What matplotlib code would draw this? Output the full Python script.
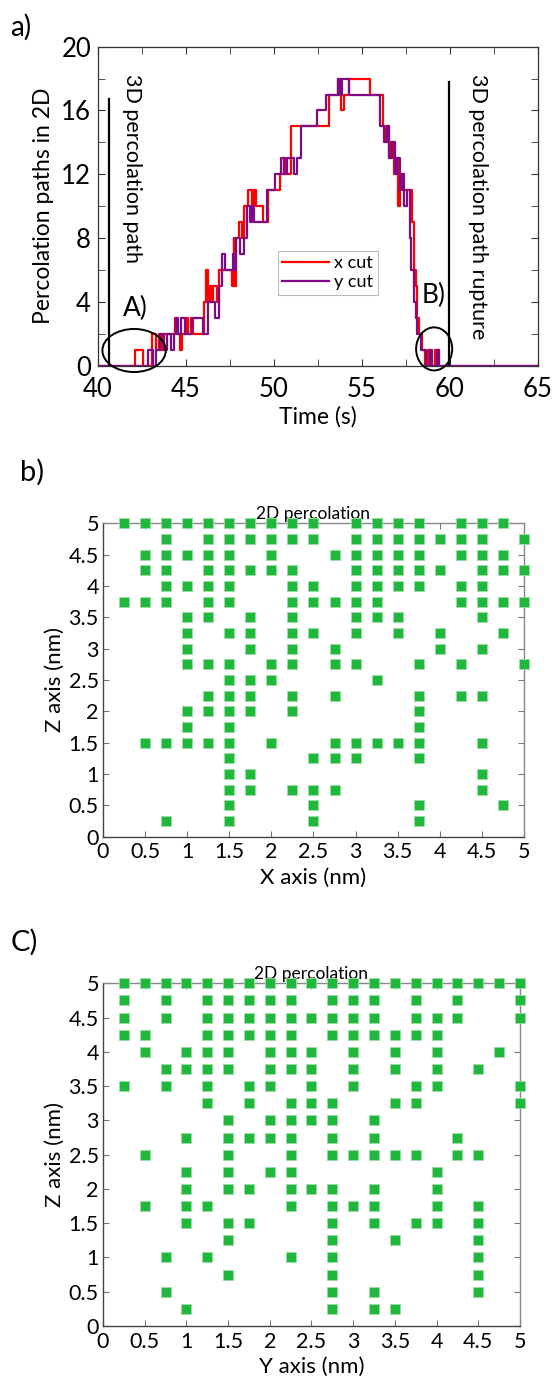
import matplotlib
matplotlib.use("Agg")
import matplotlib.pyplot as plt
from matplotlib.patches import Ellipse
from matplotlib.ticker import MultipleLocator
import numpy as np

plt.rcParams['font.family'] = ['Lato', 'DejaVu Sans']

# ---- (a) number of 2D percolation paths vs time (step changes) ----
xcut_t = [40.0, 42.1, 42.55, 43.05, 43.3, 43.45, 43.6, 43.7, 44.4, 44.5, 44.65, 44.75,
          45.0, 45.1, 45.3, 45.4, 46.05, 46.15, 46.25, 46.35, 46.45, 46.55, 46.75,
          46.85, 47.6, 47.7, 47.75, 47.85, 48.0, 48.2, 48.3, 48.55, 48.75, 48.85,
          48.95, 49.35, 49.65, 50.35, 50.55, 50.7, 50.95, 53.15, 53.65, 53.8, 53.95,
          54.25, 55.45, 56.2, 56.3, 56.4, 56.55, 56.65, 56.8, 56.9, 57.05, 57.15,
          57.3, 57.85, 57.95, 58.05, 58.15, 58.25, 58.4, 58.6, 58.75, 58.9, 59.15,
          59.35, 65.0]
xcut_n = [0, 1, 0, 2, 1, 2, 1, 2, 3, 2, 1, 2,
          3, 2, 3, 2, 4, 6, 4, 5, 4, 5, 4,
          6, 5, 8, 5, 8, 9, 8, 10, 11, 10, 11,
          10, 9, 11, 12, 13, 12, 15, 17, 18, 16, 17,
          18, 17, 15, 14, 15, 13, 14, 12, 13, 10, 12,
          11, 9, 6, 5, 3, 2, 1, 0, 1, 0, 1,
          0, 0]

ycut_t = [40.0, 42.85, 43.1, 43.3, 43.55, 43.75, 43.9, 44.15, 44.3, 44.45, 44.55, 44.7,
          44.95, 45.35, 45.95, 46.25, 46.65, 46.85, 47.05, 47.2, 47.65, 47.75, 47.85,
          48.05, 48.3, 48.45, 48.65, 48.75, 48.85, 49.6, 50.05, 50.4, 50.55, 50.75,
          51.15, 51.3, 51.55, 52.45, 52.95, 53.65, 53.75, 53.85, 54.25, 56.0, 56.25,
          56.4, 56.55, 56.7, 56.85, 57.0, 57.15, 57.3, 57.4, 57.55, 57.7, 57.8, 57.95,
          58.05, 58.15, 58.35, 58.65, 58.85, 59.0, 59.25, 59.4, 65.0]
ycut_n = [0, 1, 0, 1, 2, 1, 2, 1, 2, 3, 2, 3,
          2, 3, 2, 4, 3, 5, 7, 6, 7, 6, 8,
          7, 8, 10, 9, 10, 9, 11, 12, 13, 12, 13,
          12, 13, 15, 16, 17, 18, 17, 18, 17, 15, 14,
          15, 13, 14, 12, 13, 11, 12, 10, 11, 8, 6, 4,
          3, 2, 1, 0, 1, 0, 1, 0, 0]

# ---- (b) percolating sites in the x-z plane ----
xz_x = [0.25, 0.5, 0.75, 1, 1.25, 1.5, 1.75, 2, 2.25, 2.5, 3, 3.25, 3.5, 3.75, 4.25, 4.5, 4.75,
        0.75, 1.25, 1.5, 1.75, 2, 2.25, 2.5, 3, 3.25, 3.5, 3.75, 4, 4.25, 4.5, 5,
        0.5, 0.75, 1, 1.25, 1.5, 2, 2.75, 3, 3.25, 3.5, 3.75, 4.25, 4.5, 4.75,
        0.5, 0.75, 1.25, 1.5, 1.75, 2, 2.25, 3, 3.25, 3.5, 3.75, 4, 4.5, 4.75, 5,
        0.75, 1, 1.25, 1.5, 2.25, 2.5, 3, 3.25, 3.5, 3.75, 4.25, 4.5,
        0.25, 0.5, 0.75, 1.25, 1.5, 2.25, 2.5, 2.75, 3, 3.25, 4.25, 4.5, 4.75, 5,
        1, 1.25, 1.75, 2.25, 3, 3.25, 3.5, 4.5,
        1, 1.5, 1.75, 2.25, 2.5, 3, 3.5, 4, 4.75,
        1, 1.75, 2.25, 2.75, 4, 4.5,
        1, 1.25, 1.5, 2, 2.25, 2.75, 3, 3.75, 4.25, 5,
        1.5, 1.75, 2, 3.25,
        1.25, 1.5, 1.75, 2.25, 2.75, 3.75, 4.25, 4.5,
        1, 1.25, 1.5, 1.75, 2.25, 3.75,
        1, 1.5, 3.75,
        0.5, 0.75, 1, 1.25, 1.5, 2, 2.75, 3, 3.25, 3.5, 3.75, 4.5,
        1.5, 2.5, 2.75, 3, 3.75,
        1.5, 1.75, 4.5,
        1.5, 1.75, 2.25, 2.5, 2.75, 4.5,
        1.5, 2.5, 3.75, 4.75,
        0.75, 1.5, 2.5, 3.75]
xz_z = ([5.0] * 17 + [4.75] * 15 + [4.5] * 14 + [4.25] * 15 + [4.0] * 12 +
        [3.75] * 14 + [3.5] * 8 + [3.25] * 9 + [3.0] * 6 + [2.75] * 10 +
        [2.5] * 4 + [2.25] * 8 + [2.0] * 6 + [1.75] * 3 + [1.5] * 12 +
        [1.25] * 5 + [1.0] * 3 + [0.75] * 6 + [0.5] * 4 + [0.25] * 4)

# ---- (c) percolating sites in the y-z plane ----
yz_y = [0.25, 0.5, 0.75, 1, 1.25, 1.5, 1.75, 2, 2.25, 2.5, 2.75, 3, 3.25, 3.5, 3.75, 4, 4.25, 4.5, 4.75, 5,
        0.25, 0.75, 1.25, 1.5, 1.75, 2, 2.25, 2.75, 3, 3.25, 3.75, 4.25, 5,
        0.25, 0.75, 1.25, 1.5, 1.75, 2, 2.25, 2.5, 2.75, 3, 3.25, 3.75, 4, 4.25, 5,
        0.25, 0.5, 1.25, 1.5, 1.75, 2, 2.25, 2.75, 3, 3.25, 3.5, 3.75, 4,
        0.5, 1, 1.25, 1.5, 2, 2.25, 2.5, 3, 3.5, 4, 4.75,
        0.75, 1, 1.25, 1.5, 2, 2.25, 2.5, 3, 3.5, 4, 4.5,
        0.25, 0.75, 1.25, 1.75, 2, 2.5, 3, 3.75, 4, 5,
        1.25, 1.75, 2.25, 2.5, 2.75, 3.5, 3.75, 5,
        1.5, 2, 2.25, 2.5, 2.75, 3.25,
        1, 1.5, 1.75, 2, 2.25, 2.75, 3.25, 4.25,
        0.5, 1.5, 2.25, 2.75, 3, 3.25, 3.5, 3.75, 4.25, 4.5,
        1, 1.5, 2, 2.25, 4,
        1, 1.5, 1.75, 2.25, 2.5, 2.75, 3.25, 4,
        0.5, 1, 1.25, 2.25, 2.75, 3, 3.25, 4, 4.5,
        1, 1.5, 1.75, 2.75, 3.25, 3.75, 4, 4.5,
        1.5, 2.75, 3.5, 4.5,
        0.75, 1.25, 2.25, 2.75, 4.5,
        1.5, 2.75, 4.5,
        0.75, 2.75, 3.25, 4.5,
        1, 2.75, 3.25, 3.5]
yz_z = ([5.0] * 20 + [4.75] * 13 + [4.5] * 15 + [4.25] * 13 + [4.0] * 11 +
        [3.75] * 11 + [3.5] * 10 + [3.25] * 8 + [3.0] * 6 + [2.75] * 8 +
        [2.5] * 10 + [2.25] * 5 + [2.0] * 8 + [1.75] * 9 + [1.5] * 8 +
        [1.25] * 4 + [1.0] * 5 + [0.75] * 3 + [0.5] * 4 + [0.25] * 4)

RED = '#ff0000'
PURPLE = '#7f0a86'
GREEN = '#1fb73c'
GREEN_EDGE = '#9ddca8'

fig = plt.figure(figsize=(5.54, 13.85), dpi=100)

# ================= panel a =================
ax = fig.add_axes([0.1769, 0.7360, 0.7942, 0.2303])
ax.step(xcut_t, xcut_n, where='post', color=RED, lw=1.6, label='x cut', zorder=3)
ax.step(ycut_t, ycut_n, where='post', color=PURPLE, lw=1.6, label='y cut', zorder=3)
ax.set_xlim(40, 65)
ax.set_ylim(0, 20)
ax.xaxis.set_major_locator(MultipleLocator(5))
ax.xaxis.set_minor_locator(MultipleLocator(2.5))
ax.yaxis.set_major_locator(MultipleLocator(4))
ax.yaxis.set_minor_locator(MultipleLocator(2))
ax.tick_params(which='both', direction='in', top=True, right=True, color='#333333')
ax.tick_params(which='major', length=5, labelsize=18.5)
ax.tick_params(axis='x', which='major', pad=8)
ax.tick_params(axis='y', which='major', pad=5)
ax.tick_params(which='minor', length=5)
for s in ax.spines.values():
    s.set_color('#333333')
    s.set_linewidth(0.9)
ax.set_xlabel('Time (s)', fontsize=16.5, labelpad=3)
ax.set_ylabel('Percolation paths in 2D', fontsize=16.5, labelpad=5)

# onset and rupture markers
ax.plot([40.6, 40.6], [0, 16.7], color='black', lw=1.6, zorder=4)
ax.plot([59.95, 59.95], [0, 17.8], color='black', lw=1.6, zorder=4)
ax.text(41.95, 18.3, '3D percolation path', rotation=-90, ha='center', va='top', fontsize=15.5)
ax.text(61.6, 18.3, '3D percolation path rupture', rotation=-90, ha='center', va='top', fontsize=15.5)
ax.add_patch(Ellipse((42.05, 0.95), 3.6, 2.7, fill=False, lw=1.4, ec='black', clip_on=False, zorder=5))
ax.add_patch(Ellipse((59.1, 1.05), 2.05, 2.7, fill=False, lw=1.4, ec='black', clip_on=False, zorder=5))
ax.text(42.15, 3.6, 'A)', ha='center', va='center', fontsize=19)
ax.text(59.05, 4.4, 'B)', ha='center', va='center', fontsize=19)
leg = ax.legend(loc='upper left', bbox_to_anchor=(0.408, 0.36), fontsize=13, handlelength=2.6,
                frameon=True, fancybox=False, borderpad=0.25, labelspacing=0.15,
                handletextpad=0.3, borderaxespad=0)
leg.get_frame().set_edgecolor('#aaaaaa')
leg.get_frame().set_linewidth(0.8)
fig.text(0.018, 0.980, 'a)', fontsize=20, ha='left', va='center')


def site_panel(rect, xs, zs, xlabel):
    a = fig.add_axes(rect)
    a.scatter(xs, zs, marker='s', s=56, c=GREEN, edgecolors=GREEN_EDGE, linewidths=0.6,
              clip_on=False, zorder=4)
    a.set_xlim(0, 5)
    a.set_ylim(0, 5)
    ticks = np.arange(0, 5.01, 0.5)
    labels = ['0', '0.5', '1', '1.5', '2', '2.5', '3', '3.5', '4', '4.5', '5']
    a.set_xticks(ticks)
    a.set_xticklabels(labels)
    a.set_yticks(ticks)
    a.set_yticklabels(labels)
    a.tick_params(direction='in', top=True, right=True, length=4, color='#777777',
                  labelsize=15.5)
    a.tick_params(axis='x', pad=4)
    a.tick_params(axis='y', pad=3)
    for name, s in a.spines.items():
        s.set_color('#444444' if name in ('left', 'bottom') else '#888888')
        s.set_linewidth(1.0)
    a.set_xlabel(xlabel, fontsize=16, labelpad=4)
    a.set_ylabel('Z axis (nm)', fontsize=16, labelpad=3)
    a.set_title('2D percolation', fontsize=12.5, pad=3)
    return a


# ================= panel b =================
site_panel([0.1859, 0.3959, 0.7599, 0.2263], xz_x, xz_z, 'X axis (nm)')
fig.text(0.036, 0.659, 'b)', fontsize=21, ha='left', va='center')

# ================= panel c =================
site_panel([0.1859, 0.0426, 0.7527, 0.2474], yz_y, yz_z, 'Y axis (nm)')
fig.text(0.020, 0.320, 'C)', fontsize=21, ha='left', va='center')

fig.savefig('out.png', dpi=100, facecolor='white')
